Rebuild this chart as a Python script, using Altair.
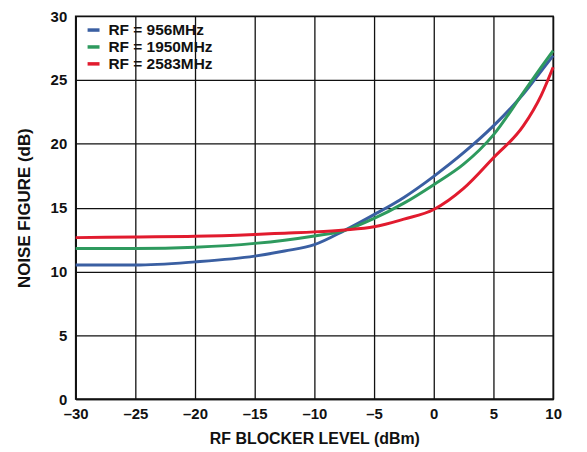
import altair as alt
import pandas as pd

# --- data ---
blocker_dbm = [-30, -25, -20, -15, -12.5, -10, -7.5, -5, -2.5, 0, 2.5, 5, 7.5, 9, 10]
nf_956 = [10.5, 10.5, 10.75, 11.2, 11.6, 12.1, 13.2, 14.45, 15.8, 17.45, 19.3, 21.4, 23.9, 25.7, 26.9]
nf_1950 = [11.8, 11.8, 11.9, 12.2, 12.45, 12.78, 13.2, 14.15, 15.35, 16.8, 18.4, 20.7, 24.0, 26.0, 27.3]
nf_2583 = [12.65, 12.7, 12.75, 12.9, 13.0, 13.1, 13.25, 13.5, 14.1, 14.85, 16.5, 18.9, 21.4, 23.8, 26.0]

series_names = ["RF = 956MHz", "RF = 1950MHz", "RF = 2583MHz"]
series_colors = ["#3A5FA2", "#2E9A5E", "#E11B2E"]

x_ticks = [-30, -25, -20, -15, -10, -5, 0, 5, 10]
y_ticks = [0, 5, 10, 15, 20, 25, 30]

rows = []
for name, vals in zip(series_names, [nf_956, nf_1950, nf_2583]):
    for i, (x, y) in enumerate(zip(blocker_dbm, vals)):
        rows.append({"x": x, "y": y, "series": name, "order": i})
df = pd.DataFrame(rows)

FONT = "Liberation Sans"

lines = alt.Chart(df).mark_line(strokeWidth=3, interpolate="monotone").encode(
    x=alt.X(
        "x:Q",
        scale=alt.Scale(domain=[-30, 10], nice=False, zero=False),
        axis=alt.Axis(
            values=x_ticks,
            title="RF BLOCKER LEVEL (dBm)",
            labelExpr="datum.value < 0 ? '\u2013' + abs(datum.value) : '' + datum.value",
            labelFlush=False,
            labelPadding=7,
            titlePadding=10,
            titleFontSize=16,
        ),
    ),
    y=alt.Y(
        "y:Q",
        scale=alt.Scale(domain=[0, 30], nice=False),
        axis=alt.Axis(
            values=y_ticks,
            title="NOISE FIGURE (dB)",
            labelFlush=False,
            labelPadding=9,
            titlePadding=17,
            titleFontSize=17,
        ),
    ),
    color=alt.Color(
        "series:N",
        scale=alt.Scale(domain=series_names, range=series_colors),
        legend=alt.Legend(
            title=None,
            orient="none",
            legendX=10,
            legendY=6,
            symbolType="stroke",
            symbolSize=144,
            symbolStrokeWidth=3.5,
            labelFont=FONT,
            labelFontSize=15.5,
            labelFontWeight="bold",
            labelColor="#111111",
            labelOffset=7,
            rowPadding=0,
            padding=0,
        ),
    ),
    order="order:Q",
)

chart = lines.properties(
    width=480,
    height=385,
    autosize=alt.AutoSizeParams(type="none"),
    padding={"left": 68, "top": 7, "right": 26, "bottom": 52},
).configure_view(
    stroke="#111111", strokeWidth=1.5
).configure_axis(
    grid=True,
    gridColor="#111111",
    gridWidth=1.3,
    gridOpacity=1,
    domainColor="#111111",
    domainWidth=1.5,
    tickSize=0,
    labelFont=FONT,
    labelFontSize=15,
    labelFontWeight="bold",
    labelColor="#111111",
    titleFont=FONT,
    titleFontWeight="bold",
    titleColor="#111111",
)

chart.save("out.html", embed_options={"renderer": "svg", "actions": False})
